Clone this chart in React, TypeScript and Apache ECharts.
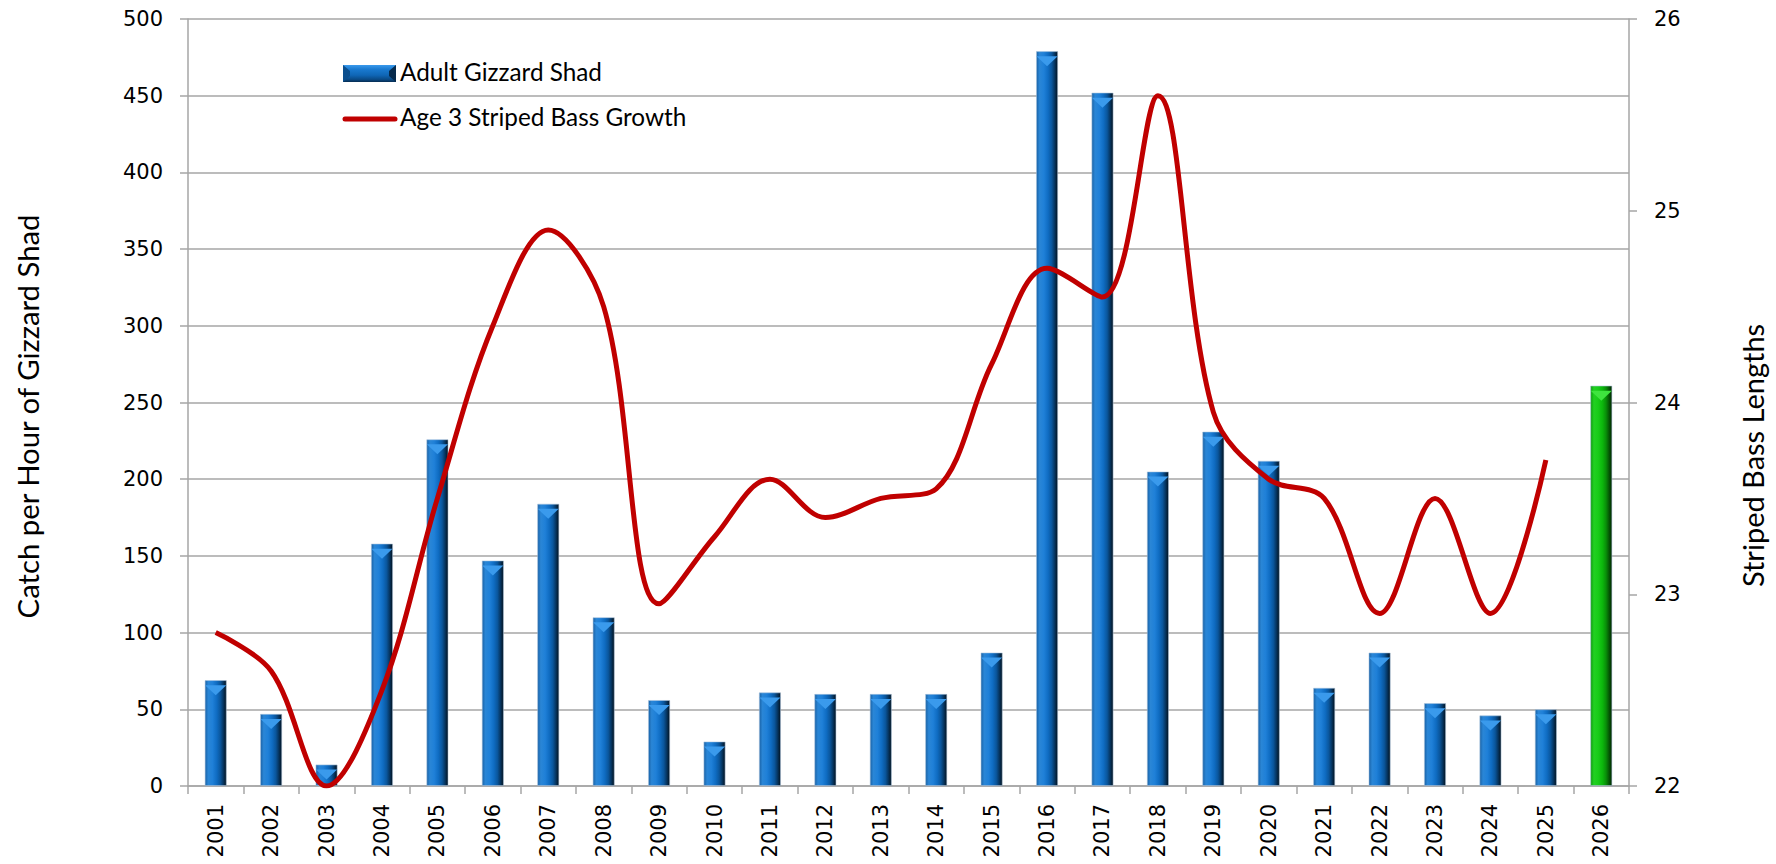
import React, { useEffect, useRef } from 'react';
import * as echarts from 'echarts';

const years = ['2001','2002','2003','2004','2005','2006','2007','2008','2009','2010','2011','2012','2013','2014','2015','2016','2017','2018','2019','2020','2021','2022','2023','2024','2025','2026'];
const shadCatch = [69,47,14,158,226,147,184,110,56,29,61,60,60,60,87,479,452,205,231,212,64,87,54,46,50,261];
const bassGrowth = [22.8,22.6,22.0,22.5,23.5,24.4,24.9,24.5,22.95,23.3,23.6,23.4,23.5,23.55,24.2,24.7,24.55,25.6,23.95,23.6,23.5,22.9,23.5,22.9,23.7];
const highlightYear = '2026';

const leftMin = 0, leftMax = 500, leftStep = 50;
const rightMin = 22, rightMax = 26, rightStep = 1;

const BAR_NAME = 'Adult Gizzard Shad';
const LINE_NAME = 'Age 3 Striped Bass Growth';

const blueFill = new echarts.graphic.LinearGradient(0, 0, 1, 0, [
  { offset: 0, color: '#1a62a6' },
  { offset: 0.15, color: '#2a86d6' },
  { offset: 0.35, color: '#1f80d8' },
  { offset: 0.55, color: '#0f6cc2' },
  { offset: 0.72, color: '#0a569c' },
  { offset: 0.86, color: '#063560' },
  { offset: 1, color: '#02121f' },
]);
const greenFill = new echarts.graphic.LinearGradient(0, 0, 1, 0, [
  { offset: 0, color: '#0c9a0c' },
  { offset: 0.15, color: '#22d022' },
  { offset: 0.35, color: '#18cc18' },
  { offset: 0.55, color: '#0cb80c' },
  { offset: 0.72, color: '#099009' },
  { offset: 0.86, color: '#055a05' },
  { offset: 1, color: '#012401' },
]);
const legendBarFill = new echarts.graphic.LinearGradient(0, 0, 0, 1, [
  { offset: 0, color: '#3a9aec' },
  { offset: 0.25, color: '#1a7ad0' },
  { offset: 0.6, color: '#0f66b6' },
  { offset: 0.85, color: '#0a4a86' },
  { offset: 1, color: '#062d52' },
]);

export default function App() {
  const ref = useRef<HTMLDivElement>(null);
  useEffect(() => {
    if (!ref.current) return;
    const chart = echarts.init(ref.current, null, { renderer: 'svg' });
    const tickFont = 'DejaVu Sans';
    const nameFont = 'Lato';
    const barData = shadCatch.map((v, i) =>
      years[i] === highlightYear ? { value: v, itemStyle: { color: greenFill } } : v
    );
    const capData = shadCatch.map((v, i) =>
      years[i] === highlightYear ? { value: v, itemStyle: { color: '#3ee43e' } } : v
    );
    chart.setOption({
      animation: false,
      backgroundColor: '#ffffff',
      grid: { left: 188, right: 147, top: 19, bottom: 78, containLabel: false },
      graphic: [
        {
          type: 'group',
          left: 343,
          top: 65,
          children: [
            { type: 'rect', shape: { x: 0, y: 0, width: 53, height: 17 }, style: { fill: legendBarFill } },
            { type: 'polygon', shape: { points: [[0, 0], [7, 6], [7, 11], [0, 17]] }, style: { fill: '#0b4f8e' } },
            { type: 'polygon', shape: { points: [[53, 0], [46, 6], [46, 11], [53, 17]] }, style: { fill: '#062a4c' } },
          ],
        },
        {
          type: 'text',
          left: 400,
          top: 59,
          style: { text: BAR_NAME, fontFamily: nameFont, fontSize: 24.3, fill: '#000' },
        },
        {
          type: 'line',
          shape: { x1: 345, y1: 119, x2: 395, y2: 119 },
          style: { stroke: '#c00000', lineWidth: 5, lineCap: 'round' },
        },
        {
          type: 'text',
          left: 400,
          top: 104,
          style: { text: LINE_NAME, fontFamily: nameFont, fontSize: 24.3, fill: '#000' },
        },
      ],
      xAxis: {
        type: 'category',
        data: years,
        boundaryGap: true,
        axisLine: { lineStyle: { color: '#a6a6a6', width: 1.5 } },
        axisTick: { show: true, length: 8, lineStyle: { color: '#a6a6a6', width: 1.5 } },
        axisLabel: {
          rotate: 90,
          interval: 0,
          margin: 18,
          fontFamily: tickFont,
          fontSize: 21,
          color: '#000',
        },
      },
      yAxis: [
        {
          type: 'value',
          min: leftMin,
          max: leftMax,
          interval: leftStep,
          position: 'left',
          name: 'Catch per Hour of Gizzard Shad',
          nameLocation: 'middle',
          nameRotate: 90,
          nameGap: 146,
          nameTextStyle: { fontFamily: nameFont, fontSize: 29.3, color: '#000', padding: [0, 28, 0, 0] },
          axisLine: { show: true, lineStyle: { color: '#a6a6a6', width: 1.5 } },
          axisTick: { show: true, length: 8, lineStyle: { color: '#a6a6a6', width: 1.5 } },
          splitLine: { show: true, lineStyle: { color: '#a6a6a6', width: 1.5 } },
          axisLabel: { margin: 25, fontFamily: tickFont, fontSize: 21, color: '#000' },
        },
        {
          type: 'value',
          min: rightMin,
          max: rightMax,
          interval: rightStep,
          position: 'right',
          name: 'Striped Bass Lengths',
          nameLocation: 'middle',
          nameRotate: 90,
          nameGap: 109,
          nameTextStyle: { fontFamily: nameFont, fontSize: 29, color: '#000', padding: [0, 106, 0, 0] },
          axisLine: { show: true, lineStyle: { color: '#a6a6a6', width: 1.5 } },
          axisTick: { show: true, length: 8, lineStyle: { color: '#a6a6a6', width: 1.5 } },
          splitLine: { show: false },
          axisLabel: { margin: 25, fontFamily: tickFont, fontSize: 21, color: '#000' },
        },
      ],
      series: [
        {
          name: BAR_NAME,
          type: 'bar',
          yAxisIndex: 0,
          barWidth: 22,
          data: barData,
          itemStyle: { color: blueFill, borderColor: 'rgba(170,195,220,0.7)', borderWidth: 0.8 },
          z: 2,
        },
        {
          name: 'cap',
          type: 'pictorialBar',
          yAxisIndex: 0,
          barWidth: 22,
          symbol: 'path://M0,0 L20,0 L10,10 Z',
          symbolPosition: 'end',
          symbolSize: [21, 10],
          symbolOffset: [0, '50%'],
          itemStyle: { color: '#3a9aec' },
          data: capData,
          z: 3,
          silent: true,
        },
        {
          name: LINE_NAME,
          type: 'line',
          yAxisIndex: 1,
          data: bassGrowth,
          smooth: 0.35,
          symbol: 'none',
          lineStyle: { color: '#c00000', width: 5 },
          itemStyle: { color: '#c00000' },
          z: 5,
        },
      ],
    });
    return () => chart.dispose();
  }, []);
  return <div ref={ref} style={{ width: 1776, height: 864, position: 'absolute', left: 0, top: 0 }} />;
}
